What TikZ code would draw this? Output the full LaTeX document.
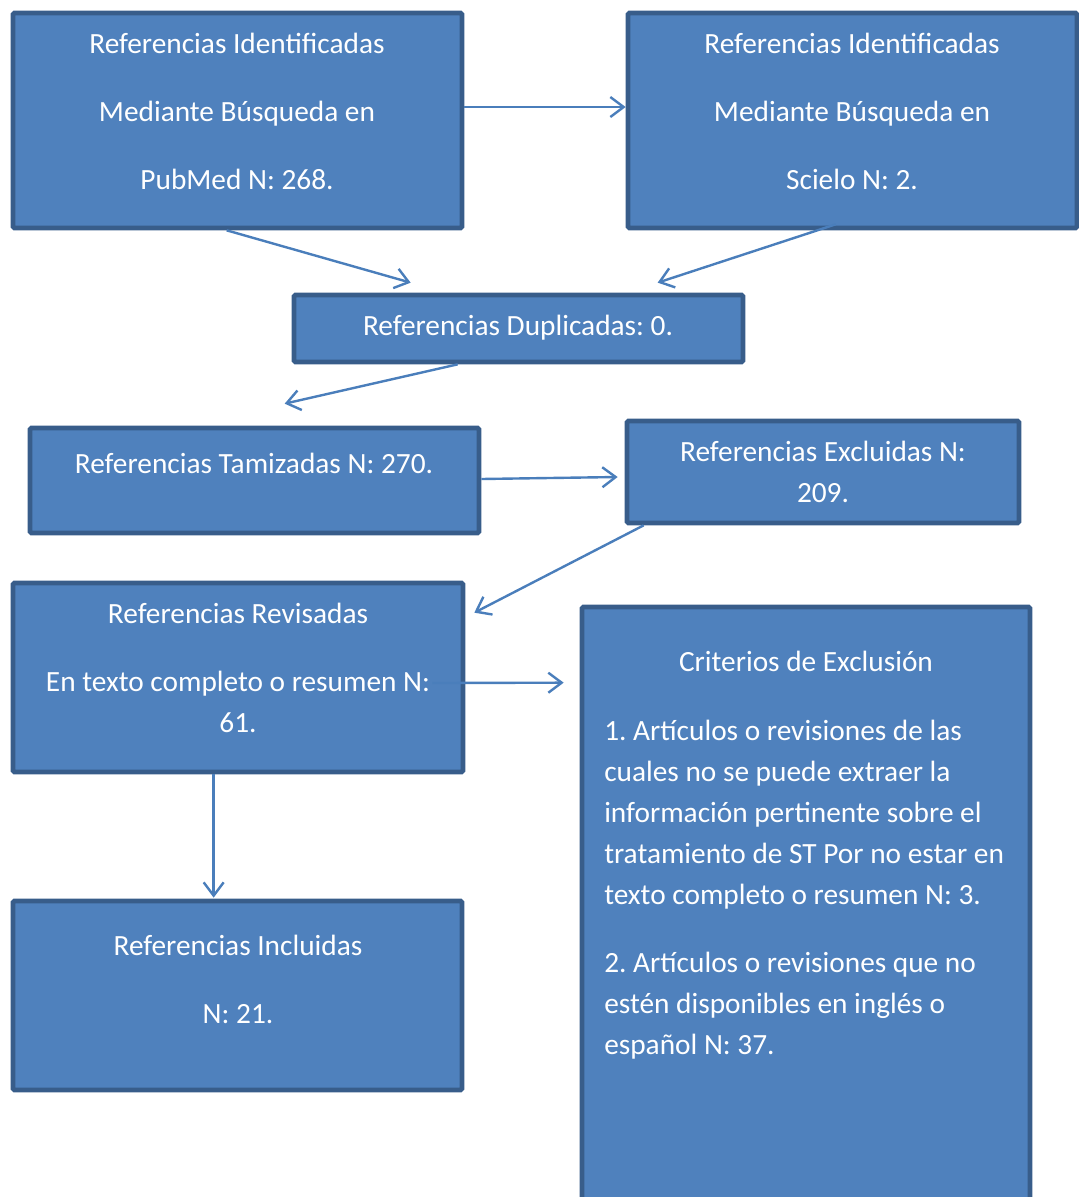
\documentclass[tikz,border=0pt]{standalone}
\usepackage{fontspec}
\setmainfont{Carlito}
\usetikzlibrary{arrows.meta,calc}
\frenchspacing
\definecolor{boxfill}{HTML}{4F81BD}
\definecolor{boxline}{HTML}{385D8A}
\definecolor{arrowc}{HTML}{4A7EBB}
\tikzset{
  box/.style={draw=boxline, fill=boxfill, line width=3.5pt, rectangle, inner sep=0pt, rounded corners=1pt},
  txt/.style={text=white, inner sep=0pt, font=\fontsize{22}{51}\selectfont, align=center, anchor=base},
  txtb/.style={text=white, inner sep=0pt, font=\fontsize{22}{30.75}\selectfont, align=center, anchor=base},
  conn/.style={draw=arrowc, line width=1.8pt, -{Straight Barb[length=10pt,width=15pt]}},
}
\begin{document}
\begin{tikzpicture}[x=0.75pt,y=-0.75pt]
\useasboundingbox (0,0) rectangle (1079,1197);
\clip (0,0) rectangle (1079,1197);
% boxes
\node[box, minimum width=336.75pt, minimum height=161.25pt] (b1) at (237.5,120.5) {};
\node[box, minimum width=336.75pt, minimum height=161.25pt] (b2) at (852.5,120.5) {};
\node[box, minimum width=336.75pt, minimum height=50.25pt] (b3) at (518.5,328.5) {};
\node[box, minimum width=336.75pt, minimum height=78.75pt] (b4) at (254.5,480.5) {};
\node[box, minimum width=294pt, minimum height=76.5pt] (b5) at (823,472) {};
\node[box, minimum width=337.5pt, minimum height=141.75pt] (b6) at (238,677.5) {};
\node[box, minimum width=336.75pt, minimum height=141.75pt] (b7) at (237.5,995.5) {};
\node[box, minimum width=336pt, minimum height=456pt] (b8) at (806,911) {};
% texts (anchor = baseline of last line)
\node[txt] (t1) at (237,189) {Referencias Identificadas\\Mediante Búsqueda en\\PubMed N: 268.};
\node[txt] (t2) at (852,189) {Referencias Identificadas\\Mediante Búsqueda en\\Scielo N: 2.};
\node[txt] (t3) at (518,335) {Referencias Duplicadas: 0.};
\node[txt] (t4) at (254,473) {Referencias Tamizadas N: 270.};
\node[txtb] (t5) at (823,502) {Referencias Excluidas N:\\209.};
\node[txtb] (t6) at (238,732) {Referencias Revisadas\\[20.25pt]En texto completo o resumen N:\\61.};
\node[txt] (t7) at (238,1023) {Referencias Incluidas\\N: 21.};
\node[txt] (t8) at (806,671) {Criterios de Exclusión};
\node[txtb, align=left, anchor=base west] (t9) at (604,1054) {1. Artículos o revisiones de las\\cuales no se puede extraer la\\información pertinente sobre el\\tratamiento de ST Por no estar en\\texto completo o resumen N: 3.\\[20.25pt]2. Artículos o revisiones que no\\estén disponibles en inglés o\\español N: 37.};
% connectors
\draw[conn] ($(b1.east)+(0,-13.5)$) -- ($(b2.west)+(0,-13.5)$);
\draw[conn] ($(b1.south west)+(216,0)$) -- ($(b3.north west)+(119,-10)$);
\draw[conn] ($(b2.south west)+(210,-6)$) -- ($(b3.north west)+(366,-10)$);
\draw[conn] ($(b3.south west)+(166,0)$) -- ($(b4.north west)+(257,-22)$);
\draw[conn] ($(b4.east)+(0,-1.5)$) -- ($(b5.west)+(-7,5)$);
\draw[conn] ($(b5.south west)+(19,0)$) -- ($(b6.north east)+(9,32)$);
\draw[conn] ($(b6.east)+(-33,5.5)$) -- ($(b8.north west)+(-16,78)$);
\draw[conn] ($(b6.south west)+(203,0)$) -- ($(b7.north west)+(203,-1)$);
\end{tikzpicture}
\end{document}
